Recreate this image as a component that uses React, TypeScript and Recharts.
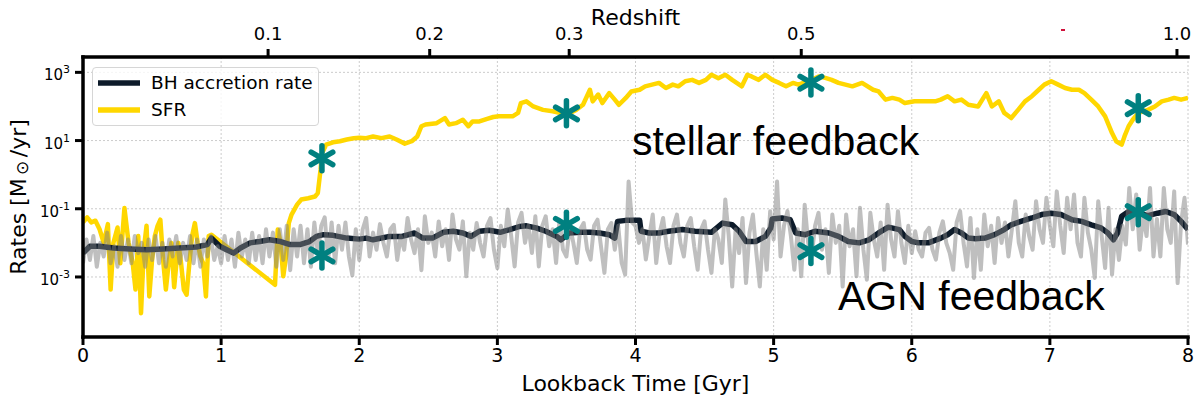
import React from 'react';
import { ComposedChart, Line, Scatter, XAxis, YAxis, CartesianGrid, Legend } from 'recharts';

// Star formation and black hole accretion history against lookback time.
// Rates are stored as log10(rate / Msun yr^-1); the y axis is labelled in powers of ten.

const WIDTH = 1194;
const HEIGHT = 400;
const PLOT_LEFT = 83;
const PLOT_RIGHT = 1188;
const PLOT_TOP = 57;
const PLOT_BOTTOM = 337;
const FONT = '"DejaVu Sans", sans-serif';

const sfrTime = [
  0.0, 0.03, 0.06, 0.09, 0.12, 0.15, 0.18, 0.2, 0.22, 0.25, 0.27, 0.3, 0.33, 0.36, 0.38, 0.4, 0.42, 0.44,
  0.46, 0.48, 0.5, 0.52, 0.54, 0.56, 0.58, 0.6, 0.62, 0.64, 0.66, 0.69, 0.71, 0.73, 0.75, 0.77, 0.79, 0.81,
  0.83, 0.85, 0.87, 0.89, 0.91, 0.93, 1.39, 1.41, 1.43, 1.45, 1.47, 1.49, 1.51, 1.55, 1.58, 1.63, 1.68, 1.7,
  1.72, 1.73, 1.76, 1.81, 1.86, 1.91, 1.96, 2.0, 2.05, 2.1, 2.16, 2.22, 2.27, 2.33, 2.38, 2.42, 2.45, 2.48,
  2.56, 2.62, 2.65, 2.7, 2.75, 2.79, 2.82, 2.87, 2.92, 2.97, 3.01, 3.11, 3.15, 3.17, 3.21, 3.26, 3.33, 3.4,
  3.45, 3.5, 3.57, 3.62, 3.67, 3.69, 3.73, 3.76, 3.81, 3.85, 3.88, 3.93, 3.97, 4.03, 4.07, 4.12, 4.17, 4.22,
  4.27, 4.31, 4.36, 4.41, 4.46, 4.51, 4.55, 4.6, 4.65, 4.7, 4.77, 4.81, 4.84, 4.89, 4.94, 4.99, 5.04, 5.09,
  5.14, 5.18, 5.25, 5.33, 5.38, 5.42, 5.47, 5.52, 5.57, 5.64, 5.72, 5.76, 5.81, 5.86, 5.91, 5.95, 6.02, 6.09,
  6.17, 6.21, 6.26, 6.31, 6.36, 6.41, 6.48, 6.54, 6.58, 6.63, 6.67, 6.72, 6.77, 6.82, 6.87, 6.92, 6.96, 7.01,
  7.06, 7.11, 7.16, 7.21, 7.25, 7.3, 7.35, 7.4, 7.45, 7.48, 7.52, 7.54, 7.57, 7.6, 7.64, 7.71, 7.76, 7.81,
  7.86, 7.9, 7.95, 8.0,
];
const sfrLog = [
  -1.4, -1.25, -1.4, -1.35, -1.6, -2.0, -1.45, -3.37, -2.0, -1.55, -2.6, -0.98, -2.0, -2.6, -3.37, -1.8, -4.06, -2.2,
  -1.5, -3.57, -2.5, -1.8, -1.5, -1.32, -2.5, -3.37, -2.6, -2.0, -3.3, -2.0, -2.6, -3.37, -3.52, -2.6, -1.8, -1.42,
  -2.0, -2.4, -2.6, -3.57, -1.8, -1.76, -3.23, -1.61, -2.0, -2.98, -2.4, -1.42, -1.17, -0.88, -0.73, -0.69, -0.64, -0.54,
  0.15, 0.63, 0.88, 0.95, 0.98, 1.03, 1.07, 1.08, 1.07, 1.12, 1.07, 1.12, 1.03, 0.91, 0.98, 1.12, 1.42, 1.47,
  1.51, 1.66, 1.47, 1.51, 1.61, 1.42, 1.56, 1.56, 1.63, 1.69, 1.71, 1.71, 1.81, 2.1, 2.15, 2.0, 1.9, 1.86,
  1.81, 1.76, 1.9, 2.05, 2.49, 2.15, 2.35, 2.1, 2.39, 2.2, 2.05, 2.25, 2.44, 2.49, 2.59, 2.64, 2.69, 2.54,
  2.64, 2.59, 2.74, 2.78, 2.69, 2.78, 2.93, 2.83, 2.93, 2.78, 2.59, 2.93, 2.88, 2.78, 2.93, 2.78, 2.69, 2.59,
  2.69, 2.64, 2.74, 2.88, 2.83, 2.78, 2.69, 2.64, 2.59, 2.69, 2.49, 2.44, 2.2, 2.25, 2.2, 2.1, 2.15, 2.15,
  2.15, 2.2, 2.3, 2.15, 2.2, 2.05, 2.0, 2.39, 2.0, 2.15, 1.81, 1.66, 1.9, 2.15, 2.3, 2.49, 2.64, 2.74,
  2.64, 2.54, 2.49, 2.49, 2.39, 2.2, 2.0, 1.71, 1.22, 0.98, 0.88, 1.12, 1.42, 1.61, 1.81, 1.9, 2.0, 2.15,
  2.2, 2.25, 2.2, 2.25,
];

// smoothed BH accretion rate
const bhTime = [
  0.0, 0.05, 0.12, 0.22, 0.34, 0.46, 0.58, 0.7, 0.82, 0.9, 0.93, 0.99, 1.04, 1.09, 1.14, 1.21, 1.28, 1.35,
  1.43, 1.5, 1.57, 1.64, 1.69, 1.74, 1.81, 1.91, 2.0, 2.05, 2.1, 2.22, 2.31, 2.4, 2.46, 2.53, 2.61, 2.68,
  2.75, 2.81, 2.87, 2.94, 3.02, 3.09, 3.16, 3.21, 3.28, 3.35, 3.43, 3.46, 3.52, 3.6, 3.67, 3.74, 3.81, 3.85,
  3.87, 3.93, 4.03, 4.04, 4.1, 4.17, 4.24, 4.34, 4.43, 4.55, 4.6, 4.63, 4.7, 4.75, 4.8, 4.87, 4.94, 4.98,
  4.99, 5.06, 5.12, 5.16, 5.23, 5.3, 5.4, 5.47, 5.54, 5.62, 5.69, 5.76, 5.83, 5.91, 5.95, 6.0, 6.05, 6.12,
  6.21, 6.26, 6.31, 6.36, 6.41, 6.46, 6.53, 6.6, 6.67, 6.72, 6.79, 6.87, 6.94, 7.01, 7.08, 7.16, 7.23, 7.3,
  7.37, 7.42, 7.46, 7.49, 7.52, 7.57, 7.64, 7.71, 7.78, 7.84, 7.9, 7.95, 8.0,
];
const bhLog = [
  -2.3, -2.1, -2.1, -2.15, -2.18, -2.2, -2.18, -2.15, -2.12, -2.05, -1.86, -2.1, -2.2, -2.3, -2.15, -2.0, -1.96, -1.91,
  -1.96, -2.05, -2.05, -1.96, -1.81, -1.76, -1.78, -1.86, -1.89, -1.86, -1.91, -1.81, -1.81, -1.71, -1.86, -1.86, -1.69, -1.66,
  -1.71, -1.81, -1.66, -1.63, -1.69, -1.61, -1.52, -1.5, -1.56, -1.66, -1.81, -1.91, -1.71, -1.69, -1.69, -1.71, -1.76, -1.86,
  -1.37, -1.34, -1.34, -1.66, -1.71, -1.71, -1.66, -1.61, -1.66, -1.69, -1.52, -1.42, -1.47, -1.66, -1.96, -1.96, -1.81, -1.56,
  -1.3, -1.27, -1.32, -1.71, -1.76, -1.66, -1.71, -1.81, -1.96, -2.0, -1.91, -1.71, -1.54, -1.61, -1.81, -1.96, -2.0, -2.0,
  -1.86, -1.76, -1.61, -1.71, -1.86, -1.88, -1.86, -1.76, -1.61, -1.47, -1.37, -1.27, -1.17, -1.13, -1.17, -1.32, -1.37, -1.47,
  -1.56, -1.71, -1.91, -1.71, -1.22, -1.08, -1.13, -1.2, -1.13, -1.08, -1.17, -1.37, -1.61,
];

// raw BH accretion rate, one snapshot every 0.025 Gyr starting at t = 0
const bhRawStep = 0.025;
const bhRawLog = [
  -2.6, -1.9, -2.5, -1.8, -2.7, -2.0, -2.4, -1.7, -2.6, -2.1, -2.7, -1.8, -2.5, -1.9, -2.6, -1.8, -2.3, -2.0, -2.7, -1.9,
  -2.5, -1.8, -2.6, -2.0, -2.7, -1.9, -2.4, -1.8, -2.6, -2.0, -2.5, -1.8, -2.6, -1.9, -2.7, -1.9, -2.4, -1.8, -2.5, -2.1,
  -2.6, -1.8, -2.5, -1.9, -2.7, -1.7, -2.4, -1.9, -2.6, -1.7, -2.5, -1.8, -2.6, -1.6, -2.4, -1.7, -2.7, -1.6, -2.5, -1.5,
  -2.8, -1.6, -2.4, -1.5, -2.6, -1.6, -2.7, -1.4, -2.3, -1.5, -1.25, -2.5, -1.4, -2.6, -1.5, -2.2, -1.4, -2.4, -2.95, -1.6,
  -2.5, -1.6, -1.27, -2.4, -1.7, -2.2, -1.45, -2.0, -2.4, -1.6, -1.47, -2.5, -1.8, -2.2, -1.27, -1.9, -2.3, -1.6, -2.8, -1.22,
  -2.0, -1.7, -2.4, -1.37, -2.1, -1.6, -2.5, -1.17, -1.9, -2.2, -1.37, -2.98, -1.7, -2.2, -1.42, -2.0, -2.4, -1.5, -1.27, -2.2,
  -2.74, -1.5, -2.1, -1.02, -1.8, -2.69, -1.4, -1.12, -2.0, -1.5, -2.3, -1.22, -2.69, -1.5, -1.22, -2.1, -1.6, -2.59, -1.32, -2.2,
  -2.4, -1.5, -2.0, -2.59, -1.6, -1.42, -2.2, -2.49, -1.5, -1.32, -2.1, -2.88, -1.6, -1.42, -2.2, -1.5, -2.59, -2.93, -0.2, -1.4,
  -1.5, -2.0, -1.6, -2.49, -1.8, -1.17, -2.59, -1.7, -1.27, -2.1, -2.59, -1.5, -1.17, -2.0, -2.4, -1.5, -1.27, -2.1, -2.79, -1.6,
  -1.37, -2.2, -2.88, -1.6, -1.9, -2.59, -0.73, -1.8, -3.28, -1.6, -2.3, -1.27, -3.18, -1.7, -1.17, -2.3, -3.28, -1.6, -2.79, -1.07,
  -1.9, -0.2, -2.4, -1.5, -1.07, -1.8, -2.79, -1.6, -2.98, -0.88, -2.0, -2.4, -1.5, -1.12, -2.2, -1.6, -2.88, -1.17, -2.0, -1.5,
  -3.28, -1.17, -2.1, -1.6, -2.98, -0.97, -2.2, -3.08, -1.12, -1.9, -2.4, -1.4, -2.79, -0.88, -1.9, -2.4, -1.07, -2.0, -2.59, -1.5,
  -2.3, -1.66, -2.2, -2.4, -1.7, -1.56, -2.2, -2.49, -1.7, -1.37, -2.0, -2.3, -2.79, -1.4, -1.07, -2.0, -2.69, -1.27, -3.03, -1.6,
  -2.79, -1.17, -2.1, -1.5, -2.59, -1.27, -2.0, -1.4, -2.4, -1.6, -0.78, -2.0, -2.4, -1.17, -1.8, -2.2, -0.78, -1.6, -2.0, -0.68,
  -1.5, -2.1, -0.49, -1.5, -2.3, -0.68, -1.6, -0.58, -2.0, -2.4, -0.68, -1.7, -2.2, -3.03, -0.78, -1.8, -2.74, -0.97, -2.93, -1.6,
  -2.5, -1.5, -2.05, -0.39, -1.6, -0.58, -2.2, -1.2, -1.8, -0.39, -2.4, -1.3, -2.4, -0.39, -1.6, -2.0, -0.49, -3.18, -1.4, -0.68,
  -2.05,
];

// feedback events marked on both curves
const markerTime = [1.73, 3.5, 5.27, 7.64];
const markerSfrLog = [0.48, 1.8, 2.7, 1.95];
const markerBhLog = [-2.37, -1.47, -2.24, -1.1];

const lookbackTicks = [0, 1, 2, 3, 4, 5, 6, 7, 8];
const rateTicks = [3, 1, -1, -3];
const redshiftLabels = ['0.1', '0.2', '0.3', '0.5', '1.0'];
const redshiftLookback = [1.34, 2.51, 3.52, 5.2, 7.92];

const sfrData = sfrTime.map((t, i) => ({ t, v: sfrLog[i] }));
const bhData = bhTime.map((t, i) => ({ t, v: bhLog[i] }));
const bhRawData = bhRawLog.map((v, i) => ({ t: +(i * bhRawStep).toFixed(3), v }));
const markerData = [
  ...markerTime.map((t, i) => ({ t, v: markerSfrLog[i] })),
  ...markerTime.map((t, i) => ({ t, v: markerBhLog[i] })),
];

const legendItems = [
  { name: 'BH accretion rate', color: '#0d1b2a' },
  { name: 'SFR', color: '#ffd700' },
];

const Asterisk = (props: any) => {
  const { cx, cy } = props;
  const r = 12.5;
  return (
    <g stroke="#008080" strokeWidth={5.5} strokeLinecap="round">
      {[90, 30, 150].map((a) => {
        const dx = r * Math.cos((a * Math.PI) / 180);
        const dy = r * Math.sin((a * Math.PI) / 180);
        return <line key={a} x1={cx - dx} y1={cy - dy} x2={cx + dx} y2={cy + dy} />;
      })}
    </g>
  );
};

const BottomTick = ({ x, payload }: any) => (
  <text x={x} y={362} textAnchor="middle" fontFamily={FONT} fontSize={19} fill="#000">
    {payload.value}
  </text>
);

const TopTick = ({ x, payload }: any) => (
  <text x={x} y={40} textAnchor="middle" fontFamily={FONT} fontSize={18} fill="#000">
    {redshiftLabels[redshiftLookback.indexOf(payload.value)]}
  </text>
);

const RateTick = ({ y, payload }: any) => (
  <text x={70} y={y + 8} textAnchor="end" fontFamily={FONT} fontSize={15} fill="#000">
    10
    <tspan dy={-7} fontSize={11}>
      {payload.value}
    </tspan>
  </text>
);

const LegendBox = () => (
  <div
    style={{
      position: 'relative',
      width: 227,
      height: 59,
      boxSizing: 'border-box',
      border: '1px solid #d6d6d6',
      borderRadius: 4,
      background: 'rgba(255,255,255,0.8)',
      fontFamily: FONT,
      fontSize: 18.5,
      color: '#000',
    }}
  >
    {legendItems.map((item, i) => (
      <div key={item.name} style={{ position: 'absolute', left: 0, top: 4 + i * 27, height: 22, width: '100%' }}>
        <svg width={50} height={22} style={{ position: 'absolute', left: 0, top: 0 }}>
          <line x1={5} y1={11} x2={47} y2={11} stroke={item.color} strokeWidth={5.5} />
        </svg>
        <span style={{ position: 'absolute', left: 58, top: 0, lineHeight: '22px', whiteSpace: 'nowrap' }}>
          {item.name}
        </span>
      </div>
    ))}
  </div>
);

const axisStroke = { stroke: '#000', strokeWidth: 3.5, strokeLinecap: 'square' as const };
const tickStroke = { stroke: '#000', strokeWidth: 3 };

export default function App() {
  return (
    <div style={{ position: 'absolute', left: 0, top: 0, width: WIDTH, height: HEIGHT, background: '#fff' }}>
      <ComposedChart
        width={WIDTH}
        height={HEIGHT}
        margin={{ top: 0, right: WIDTH - PLOT_RIGHT, bottom: 0, left: 0 }}
      >
        <CartesianGrid xAxisId="bottom" yAxisId="left" stroke="#cccccc" strokeDasharray="2 2" strokeWidth={1} />
        <Line
          data={sfrData}
          xAxisId="bottom"
          yAxisId="left"
          dataKey="v"
          name="SFR"
          type="linear"
          stroke="#ffd700"
          strokeWidth={4.5}
          strokeLinejoin="round"
          dot={false}
          activeDot={false}
          isAnimationActive={false}
        />
        <Line
          data={bhData}
          xAxisId="bottom"
          yAxisId="left"
          dataKey="v"
          name="BH accretion rate"
          type="linear"
          stroke="#0d1b2a"
          strokeWidth={5.5}
          strokeLinejoin="round"
          dot={false}
          activeDot={false}
          isAnimationActive={false}
        />
        <Line
          data={bhRawData}
          xAxisId="bottom"
          yAxisId="left"
          dataKey="v"
          name="BH accretion rate (raw)"
          legendType="none"
          type="linear"
          stroke="#808080"
          strokeOpacity={0.5}
          strokeWidth={4}
          strokeLinejoin="round"
          dot={false}
          activeDot={false}
          isAnimationActive={false}
        />
        <Scatter
          data={markerData}
          xAxisId="bottom"
          yAxisId="left"
          dataKey="v"
          legendType="none"
          shape={Asterisk}
          isAnimationActive={false}
        />
        <XAxis
          xAxisId="bottom"
          dataKey="t"
          type="number"
          domain={[0, 8]}
          ticks={lookbackTicks}
          allowDataOverflow
          height={HEIGHT - PLOT_BOTTOM}
          axisLine={axisStroke}
          tickLine={tickStroke}
          tickSize={8}
          tick={BottomTick}
          label={() => (
            <text x={(PLOT_LEFT + PLOT_RIGHT) / 2} y={391} textAnchor="middle" fontFamily={FONT} fontSize={22} fill="#000">
              Lookback Time [Gyr]
            </text>
          )}
        />
        <XAxis
          xAxisId="top"
          orientation="top"
          dataKey="t"
          type="number"
          domain={[0, 8]}
          ticks={redshiftLookback}
          allowDataOverflow
          height={PLOT_TOP}
          axisLine={axisStroke}
          tickLine={tickStroke}
          tickSize={8}
          tick={TopTick}
          label={() => (
            <text x={(PLOT_LEFT + PLOT_RIGHT) / 2} y={25} textAnchor="middle" fontFamily={FONT} fontSize={22} fill="#000">
              Redshift
            </text>
          )}
        />
        <YAxis
          yAxisId="left"
          dataKey="v"
          type="number"
          domain={[-4.76, 3.45]}
          ticks={rateTicks}
          allowDataOverflow
          width={PLOT_LEFT}
          axisLine={axisStroke}
          tickLine={tickStroke}
          tickSize={8}
          tick={RateTick}
          label={() => (
            <text
              x={26}
              y={(PLOT_TOP + PLOT_BOTTOM) / 2}
              transform={`rotate(-90, 26, ${(PLOT_TOP + PLOT_BOTTOM) / 2})`}
              textAnchor="middle"
              fontFamily={FONT}
              fontSize={22}
              fill="#000"
            >
              Rates [M
              <tspan fontSize={17} dy={2}>
                {'\u2009\u2299\u2009'}
              </tspan>
              <tspan dy={-2}>/yr]</tspan>
            </text>
          )}
        />
        <YAxis
          yAxisId="right"
          orientation="right"
          type="number"
          domain={[-4.76, 3.45]}
          width={0}
          tick={false}
          tickLine={false}
          axisLine={axisStroke}
        />
        <Legend
          layout="vertical"
          align="center"
          verticalAlign="middle"
          wrapperStyle={{ left: 92, top: 67, width: 227, height: 59 }}
          content={() => <LegendBox />}
        />
      </ComposedChart>
      <svg
        width={WIDTH}
        height={HEIGHT}
        style={{ position: 'absolute', left: 0, top: 0, pointerEvents: 'none' }}
      >
        <text x={632} y={155} fontFamily='"Liberation Sans", Arial, sans-serif' fontSize={41} fill="#000">
          stellar feedback
        </text>
        <text x={838} y={310} fontFamily='"Liberation Sans", Arial, sans-serif' fontSize={41} fill="#000">
          AGN feedback
        </text>
        <rect x={1061} y={29} width={4} height={2} fill="#d0103a" />
      </svg>
    </div>
  );
}
